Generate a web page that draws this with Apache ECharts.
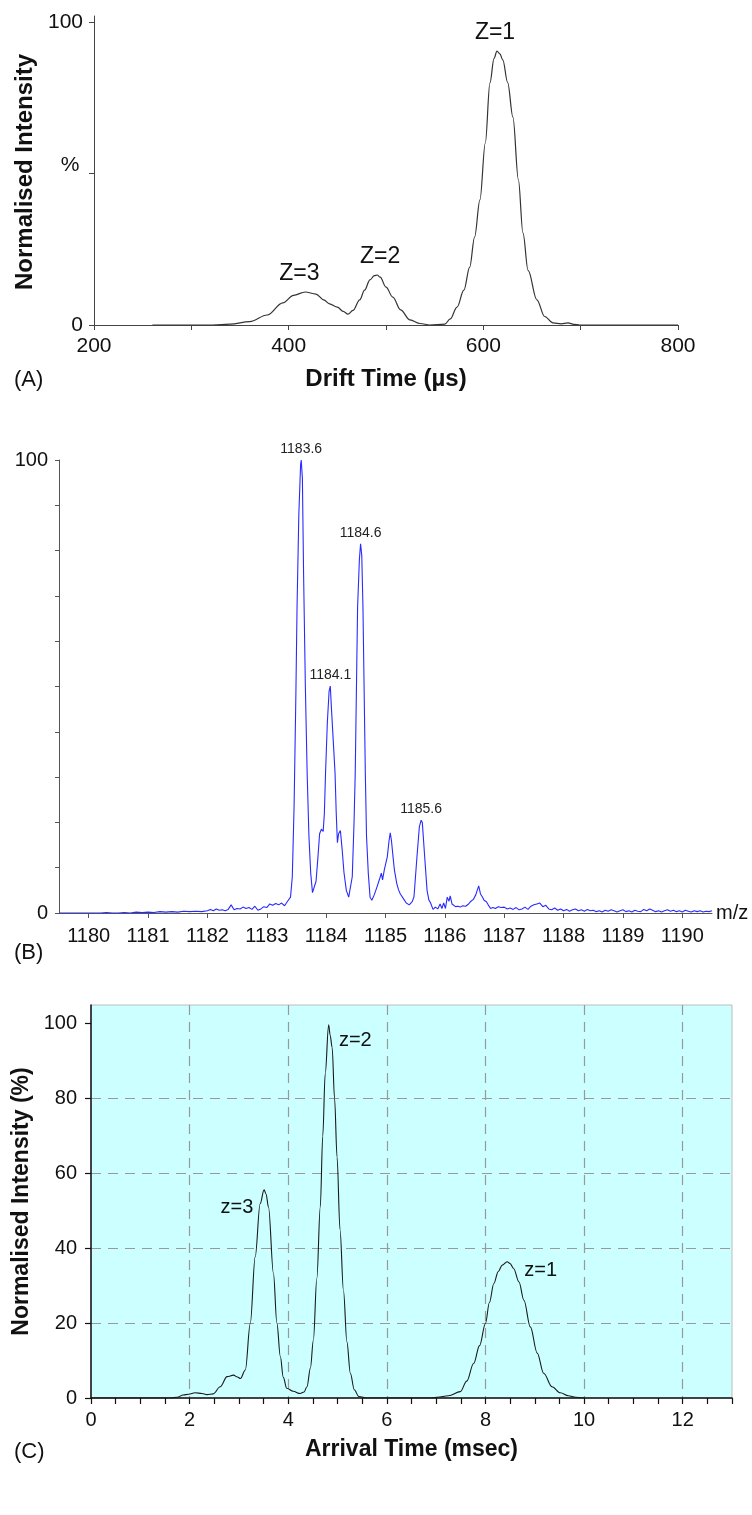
<!DOCTYPE html>
<html>
<head>
<meta charset="utf-8">
<script src="https://cdn.jsdelivr.net/npm/echarts@6/dist/echarts.min.js"></script>
<style>
html,body{margin:0;padding:0;background:#fff;}
#chart{width:752px;height:1515px;}
</style>
</head>
<body>
<div id="chart"></div>
<script>
// ---------- Panel A : drift time ----------
const aTime = [260,300,322,340,360,378,394,405,417,428,436,442,450,456,461,466,473,478,483.5,488,491,494,500,507,515,524.6,535,545,560.5,566,573,580,586,591,596.5,602,606.8,611,614,617,620,625,630.4,636,640.7,646,655,663,671.5,680,687,693,699,750,800];
const aInt  = [0,0,0,0.3,1.1,3.3,7.3,9.8,10.9,10.2,8.3,7.0,5.9,4.5,3.6,4.8,8.3,11.5,14.9,16.3,16.5,15.8,12.5,9.2,5.0,1.7,0.5,0,0.3,2.0,5.9,11.5,19.1,29,41.3,60,79.9,88,90.4,89.5,87.5,80,68.6,48,30.4,18,8.3,2.8,0.7,0.4,0.7,0.2,0,0,0];
const aTickValues = [200,300,400,500,600,700,800];
const aTickLabels = [200,400,600,800];
const aYTicks = [0,50,100];
const aYLabels = [0,100];
const aNotes = ['Z=3','Z=2','Z=1'];
const aNoteX = [411,494,612];
const aNoteY = [16.8,22.4,96.4];

// ---------- Panel B : mass spectrum ----------
const bMz = [1179.5,1179.6,1179.7,1179.8,1179.9,1180.0,1180.1,1180.2,1180.3,1180.4,1180.5,1180.6,1180.7,1180.8,1180.9,1181.0,1181.1,1181.2,1181.3,1181.4,1181.5,1181.6,1181.7,1181.8,1181.9,1182.0,1182.05,1182.1,1182.15,1182.2,1182.25,1182.3,1182.35,1182.4,1182.45,1182.5,1182.55,1182.6,1182.65,1182.7,1182.75,1182.8,1182.85,1182.9,1182.95,1183.0,1183.05,1183.1,1183.15,1183.2,1183.25,1183.3,1183.35,
1183.40,1183.43,1183.46,1183.49,1183.51,1183.54,1183.57,1183.58,1183.60,1183.62,1183.65,1183.68,1183.71,1183.74,1183.77,1183.80,1183.83,1183.86,1183.89,1183.92,1183.95,1183.97,1183.99,1184.02,1184.05,1184.07,1184.09,1184.12,1184.15,1184.17,1184.19,1184.21,1184.24,1184.27,1184.30,1184.34,1184.38,1184.41,1184.44,1184.47,1184.49,1184.53,1184.56,1184.58,1184.60,1184.62,1184.66,1184.68,1184.71,1184.74,1184.77,1184.81,1184.85,1184.90,1184.93,1184.95,1184.98,1185.03,1185.06,1185.08,1185.10,1185.13,1185.15,1185.19,1185.22,1185.25,1185.28,1185.31,1185.35,1185.40,1185.45,1185.48,1185.53,1185.57,1185.60,1185.62,1185.66,1185.70,1185.73,1185.76,1185.80,1185.84,1185.88,1185.92,1185.95,1185.98,1186.01,1186.04,1186.07,1186.09,1186.12,1186.15,1186.18,1186.22,1186.26,1186.30,1186.35,1186.40,1186.44,1186.48,1186.52,1186.55,1186.57,1186.60,1186.63,1186.66,1186.70,1186.73,1186.77,1186.81,1186.85,1186.90,1186.95,
1187.0,1187.05,1187.1,1187.15,1187.2,1187.25,1187.3,1187.35,1187.4,1187.45,1187.5,1187.55,1187.6,1187.65,1187.7,1187.75,1187.8,1187.85,1187.9,1187.95,1188.0,1188.05,1188.1,1188.15,1188.2,1188.25,1188.3,1188.35,1188.4,1188.45,1188.5,1188.55,1188.6,1188.65,1188.7,1188.75,1188.8,1188.85,1188.9,1188.95,1189.0,1189.05,1189.1,1189.15,1189.2,1189.25,1189.3,1189.35,1189.4,1189.45,1189.5,1189.55,1189.6,1189.65,1189.7,1189.75,1189.8,1189.85,1189.9,1189.95,1190.0,1190.05,1190.1,1190.15,1190.2,1190.25,1190.3,1190.35,1190.4,1190.45,1190.5];
const bInt = [0,0,0,0,0,0,0,0,0.1,0,0,0.1,0,0.2,0.1,0.2,0.1,0.3,0.2,0.3,0.2,0.4,0.3,0.4,0.3,0.5,0.8,0.5,0.9,0.6,0.7,0.5,0.8,1.8,0.7,1.0,0.9,1.3,1.0,1.2,0.8,1.5,0.6,0.9,1.4,1.2,2.0,1.7,2.1,1.8,2.2,1.6,2.6,
3.5,8,23.5,48,67.6,88,99,100,96,75,50,30.9,17,8.8,4.5,4.2,7,12,17.5,18.5,18.0,22,30.9,42,49,50.1,45,38,30.9,22,15.5,17.5,18.2,14,9,5,3.5,3.3,8,20,30.9,67.6,78,81.5,79,67.6,30.9,17,8.8,3.5,2.8,4,5.5,7.5,8.8,7.3,9.5,12.4,16,17.7,16,12,9.5,6.5,5.1,4.2,4.5,3,2.2,1.8,2.5,3.6,12.4,19,20.5,20,12.4,5,2.9,2.2,0.8,1.3,0.9,2.0,1.0,2.2,1.0,3.5,2.6,3.8,2.0,2.4,1.4,1.5,1.3,1.6,1.5,2.0,2.6,3.0,4.0,5.2,6.0,4.2,3.6,2.8,2.5,1.8,1.0,1.2,1.0,1.4,1.2,
1.3,0.9,1.1,0.8,1.2,0.7,0.9,1.3,0.8,1.5,1.8,2.0,2.2,1.4,1.7,0.9,0.7,1.1,0.6,0.9,0.5,0.8,0.4,0.7,0.9,0.5,0.7,0.4,0.8,0.5,0.6,0.3,0.5,0.2,0.6,0.4,0.7,0.5,0.2,0.5,0.7,0.3,0.5,0.2,0.6,0.4,0.3,0.8,0.5,0.9,0.6,0.3,0.5,0.2,0.5,0.7,0.4,0.6,0.3,0.5,0.2,0.6,0.4,0.2,0.5,0.3,0.5,0.2,0.4,0.3,0.5];
const bXTicks = [1180,1181,1182,1183,1184,1185,1186,1187,1188,1189,1190];
const bYTicks = [0,10,20,30,40,50,60,70,80,90,100];
const bYLabels = [0,100];
const bPeakLabels = ['1183.6','1184.1','1184.6','1185.6'];
const bPeakMz = [1183.58,1184.07,1184.58,1185.60];
const bPeakInt = [100,50.1,81.5,20.5];

// ---------- Panel C : arrival time ----------
const cTime = [0,1.6,1.75,1.87,1.98,2.11,2.25,2.35,2.48,2.62,2.76,2.89,2.97,3.03,3.13,3.23,3.33,3.43,3.51,3.55,3.60,3.70,3.77,3.84,3.90,3.97,4.1,4.24,4.32,4.38,4.45,4.51,4.58,4.65,4.70,4.75,4.82,4.85,4.89,4.94,4.99,5.05,5.12,5.19,5.26,5.34,5.43,5.6,6.9,7.02,7.25,7.49,7.62,7.76,7.88,8.0,8.08,8.17,8.26,8.34,8.44,8.50,8.57,8.68,8.78,8.91,9.05,9.18,9.35,9.52,9.68,9.83,10.0];
const cInt  = [0,0,0.2,0.8,1.0,1.4,1.2,0.9,1.1,3.0,5.7,6.1,5.6,5.2,7.5,19.9,37.7,51.9,55.6,54.5,51,33.3,20,11.1,5.5,2.6,1.8,1.2,1.6,3.0,8,15.5,32,51,70,86.6,99.7,97,93.7,80,64.4,45,28.8,15,6.6,2.2,0.4,0,0,0.2,0.6,1.7,4.5,9.2,14,19.9,25.5,30.6,33.8,35.5,36.4,35.9,34.6,31,26.1,19,12,6.6,3.0,1.4,0.6,0.2,0];
const cXTicks = [0,0.5,1,1.5,2,2.5,3,3.5,4,4.5,5,5.5,6,6.5,7,7.5,8,8.5,9,9.5,10,10.5,11,11.5,12,12.5,13];
const cXLabels = [0,2,4,6,8,10,12];
const cYTicks = [0,20,40,60,80,100];
const cNotes = ['z=3','z=2','z=1'];
const cNoteX = [2.96,5.36,9.12];
const cNoteY = [51,95.6,34.2];

const FONT = "'Liberation Sans', Arial, sans-serif";
const zip = (xs, ys) => xs.map((x, i) => [x, ys[i]]);
const plain = v => String(v);

const chart = echarts.init(document.getElementById('chart'), null, {renderer: 'canvas'});

const noteMarks = (names, xs, ys, size) => ({
  symbol: 'circle', symbolSize: 0, silent: true,
  label: {show: true, position: 'inside', color: '#111', fontFamily: FONT, fontSize: size, formatter: p => p.name},
  data: names.map((n, i) => ({name: n, coord: [xs[i], ys[i]]}))
});

const option = {
  animation: false,
  backgroundColor: '#fff',
  textStyle: {fontFamily: FONT},
  grid: [
    {left: 94, top: 16, width: 584, height: 309, outerBoundsMode: 'none'},
    {left: 59, top: 460, width: 653, height: 453, outerBoundsMode: 'none'},
    {left: 91, top: 1005, width: 641, height: 393, outerBoundsMode: 'none', show: true,
     backgroundColor: '#ccffff', borderColor: '#bdbdbd', borderWidth: 1}
  ],
  xAxis: [
    {gridIndex: 0, type: 'value', min: 200, max: 800,
     name: 'Drift Time (µs)', nameLocation: 'middle', nameGap: 42,
     nameTextStyle: {fontFamily: FONT, fontSize: 24, fontWeight: 'bold', color: '#111'},
     axisLine: {lineStyle: {color: '#444', width: 1}},
     axisTick: {show: true, length: 5, customValues: aTickValues, lineStyle: {color: '#444'}},
     axisLabel: {customValues: aTickLabels, formatter: plain, margin: 11, fontSize: 21, color: '#111', fontFamily: FONT},
     splitLine: {show: false}},
    {gridIndex: 1, type: 'value', min: 1179.5, max: 1190.5,
     name: 'm/z', nameLocation: 'end', nameGap: 4,
     nameTextStyle: {fontFamily: FONT, fontSize: 20, color: '#111'},
     axisLine: {lineStyle: {color: '#555', width: 1}},
     axisTick: {show: true, length: 5, customValues: bXTicks, lineStyle: {color: '#555'}},
     axisLabel: {customValues: bXTicks, formatter: plain, margin: 13, fontSize: 20, color: '#111', fontFamily: FONT},
     splitLine: {show: false}},
    {gridIndex: 2, type: 'value', min: 0, max: 13,
     name: 'Arrival Time (msec)', nameLocation: 'middle', nameGap: 40,
     nameTextStyle: {fontFamily: FONT, fontSize: 23, fontWeight: 'bold', color: '#111'},
     axisLine: {lineStyle: {color: '#111', width: 1.5}},
     axisTick: {show: true, length: 6, customValues: cXTicks, lineStyle: {color: '#111', width: 1.2}},
     axisLabel: {customValues: cXLabels, formatter: plain, margin: 12, fontSize: 20, color: '#111', fontFamily: FONT},
     splitLine: {show: false}},
    // helper axis for the vertical dashed grid of panel C (every 2 ms)
    {gridIndex: 2, type: 'value', min: 0, max: 13, interval: 2, position: 'bottom',
     axisLine: {show: false}, axisTick: {show: false}, axisLabel: {show: false},
     splitLine: {show: true, showMinLine: false, showMaxLine: false, lineStyle: {color: '#999', type: [10, 7], width: 1.2}}}
  ],
  yAxis: [
    {gridIndex: 0, type: 'value', min: 0, max: 102,
     axisLine: {show: true, lineStyle: {color: '#444', width: 1}},
     axisTick: {show: true, length: 5, customValues: aYTicks, lineStyle: {color: '#444'}},
     axisLabel: {customValues: aYLabels, formatter: plain, margin: 11, fontSize: 21, color: '#111', fontFamily: FONT},
     splitLine: {show: false}},
    {gridIndex: 1, type: 'value', min: 0, max: 100,
     name: '%', nameLocation: 'middle', nameGap: 14, nameRotate: 90,
     nameTextStyle: {fontFamily: FONT, fontSize: 21, color: '#111'},
     axisLine: {show: true, lineStyle: {color: '#555', width: 1}},
     axisTick: {show: true, length: 4, customValues: bYTicks, lineStyle: {color: '#555'}},
     axisLabel: {customValues: bYLabels, formatter: plain, margin: 11, fontSize: 20, color: '#111', fontFamily: FONT},
     splitLine: {show: false}},
    {gridIndex: 2, type: 'value', min: 0, max: 105, interval: 20,
     name: 'Normalised Intensity (%)', nameLocation: 'middle', nameGap: 54, nameRotate: 90,
     nameTextStyle: {fontFamily: FONT, fontSize: 23, fontWeight: 'bold', color: '#111'},
     axisLine: {show: true, lineStyle: {color: '#111', width: 1.5}},
     axisTick: {show: true, length: 6, customValues: cYTicks, lineStyle: {color: '#111', width: 1.2}},
     axisLabel: {customValues: cYTicks, formatter: plain, margin: 14, fontSize: 20, color: '#111', fontFamily: FONT},
     splitLine: {show: true, showMinLine: false, showMaxLine: false, lineStyle: {color: '#999', type: [10, 7], width: 1.2}}}
  ],
  series: [
    {type: 'line', xAxisIndex: 0, yAxisIndex: 0, data: zip(aTime, aInt), showSymbol: false,
     smooth: 0.35, smoothMonotone: 'x', lineStyle: {color: '#333', width: 1.2}, silent: true,
     markPoint: noteMarks(aNotes, aNoteX, aNoteY, 23)},
    {type: 'line', xAxisIndex: 1, yAxisIndex: 1, data: zip(bMz, bInt), showSymbol: false,
     lineStyle: {color: '#2a2aff', width: 1.1}, silent: true,
     markPoint: {symbol: 'circle', symbolSize: 0, silent: true,
       label: {show: true, position: 'top', distance: 4, color: '#222', fontFamily: FONT, fontSize: 14, formatter: p => p.name},
       data: bPeakLabels.map((n, i) => ({name: n, coord: [bPeakMz[i], bPeakInt[i]]}))}},
    {type: 'line', xAxisIndex: 2, yAxisIndex: 2, data: zip(cTime, cInt), showSymbol: false,
     smooth: 0.35, smoothMonotone: 'x', lineStyle: {color: '#1a1a1a', width: 1.1}, silent: true,
     markPoint: noteMarks(cNotes, cNoteX, cNoteY, 20)}
  ],
  graphic: [
    {type: 'text', x: 25, y: 172, rotation: Math.PI / 2,
     style: {text: 'Normalised Intensity', font: "bold 24px 'Liberation Sans', Arial, sans-serif", fill: '#111', textAlign: 'center', textVerticalAlign: 'middle'}},
    {type: 'text', x: 70, y: 165,
     style: {text: '%', font: "21px 'Liberation Sans', Arial, sans-serif", fill: '#111', textAlign: 'center', textVerticalAlign: 'middle'}},
    {type: 'text', x: 14, y: 380,
     style: {text: '(A)', font: "22px 'Liberation Sans', Arial, sans-serif", fill: '#111', textVerticalAlign: 'middle'}},
    {type: 'text', x: 14, y: 953,
     style: {text: '(B)', font: "22px 'Liberation Sans', Arial, sans-serif", fill: '#111', textVerticalAlign: 'middle'}},
    {type: 'text', x: 14, y: 1452,
     style: {text: '(C)', font: "22px 'Liberation Sans', Arial, sans-serif", fill: '#111', textVerticalAlign: 'middle'}}
  ]
};
chart.setOption(option);
</script>
</body>
</html>
